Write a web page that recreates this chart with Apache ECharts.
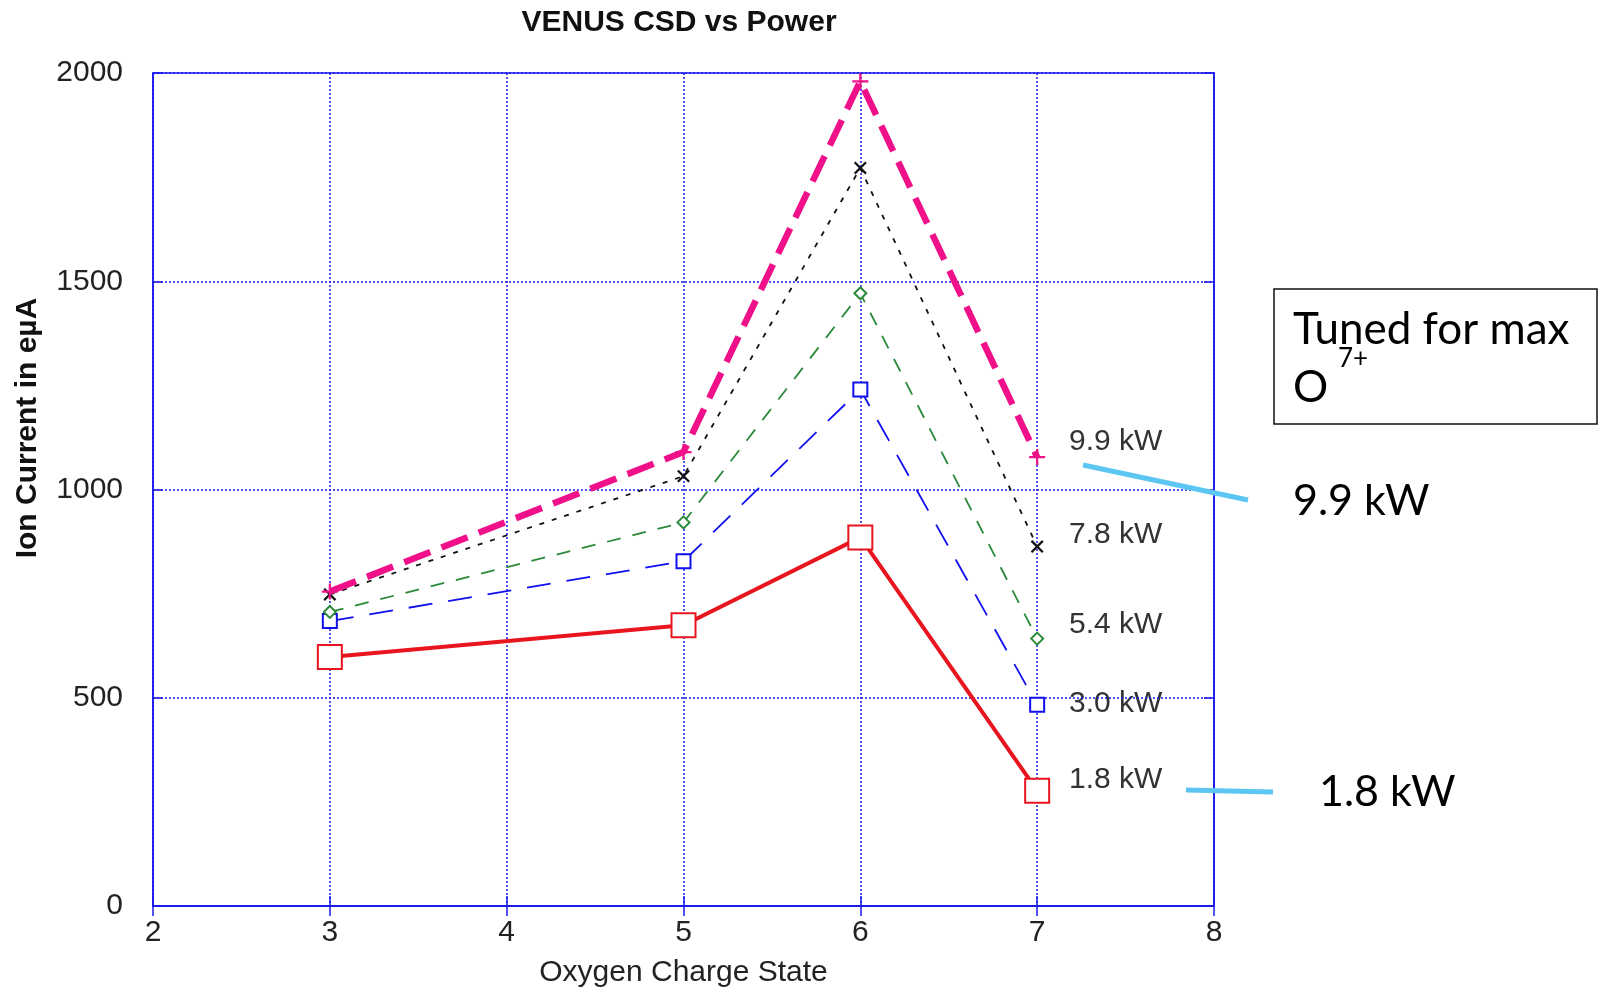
<!DOCTYPE html>
<html>
<head>
<meta charset="utf-8">
<script src="https://cdn.jsdelivr.net/npm/echarts@6/dist/echarts.min.js"></script>
<style>
  html, body { margin: 0; padding: 0; background: #fff; }
  #chart { width: 1599px; height: 992px; }
</style>
</head>
<body>
<div id="chart"></div>
<script>
// charge states measured
const chargeStates = [3, 5, 6, 7];
// ion current (e\u00b5A) per RF power
const power99 = [755, 1090, 1980, 1078];
const power78 = [748, 1032, 1772, 863];
const power54 = [706, 921, 1471, 642];
const power30 = [684, 828, 1240, 483];
const power18 = [598, 674, 885, 277];
const seriesNames = ['9.9 kW', '7.8 kW', '5.4 kW', '3.0 kW', '1.8 kW'];

const gridBlue = '#1a1aee';
const tickFont = { fontFamily: 'Liberation Sans', fontSize: 30, color: '#222' };
const plusPath = 'path://M0,4.3 L10,4.3 L10,5.7 L0,5.7 Z M4.3,0 L5.7,0 L5.7,10 L4.3,10 Z';

function pts(vals) {
    return chargeStates.map((x, i) => [x, vals[i]]);
}

const chart = echarts.init(document.getElementById('chart'));

const axisCommon = {
    type: 'value',
    axisLine: { show: true, lineStyle: { color: gridBlue, width: 1.5 } },
    axisTick: { show: true, inside: true, length: 10, lineStyle: { color: gridBlue, width: 1.5 } }
};

chart.setOption({
    backgroundColor: '#fff',
    animation: false,
    title: {
        text: 'VENUS CSD vs Power',
        left: 674,
        textAlign: 'center',
        top: 3,
        textStyle: { fontFamily: 'Liberation Sans', fontSize: 30, fontWeight: 'bold', color: '#111' }
    },
    grid: {
        left: 153, right: 385, top: 73, bottom: 86,
        outerBoundsMode: 'none', containLabel: false,
        show: true, borderColor: gridBlue, borderWidth: 1.5
    },
    xAxis: [
        Object.assign({}, axisCommon, {
            min: 2, max: 8, interval: 1,
            name: 'Oxygen Charge State',
            nameLocation: 'middle',
            nameGap: 52,
            nameTextStyle: { fontFamily: 'Liberation Sans', fontSize: 30, color: '#222' },
            axisLabel: Object.assign({ margin: 12 }, tickFont),
            splitLine: { show: true, lineStyle: { color: gridBlue, type: [2, 2], width: 1.5 } }
        }),
        Object.assign({}, axisCommon, {
            position: 'top', min: 2, max: 8, interval: 1,
            axisLabel: { show: false }, splitLine: { show: false }
        })
    ],
    yAxis: [
        Object.assign({}, axisCommon, {
            min: 0, max: 2000, interval: 500,
            axisLabel: Object.assign({ margin: 30, formatter: (v) => String(v) }, tickFont),
            splitLine: { show: true, lineStyle: { color: gridBlue, type: [2, 2], width: 1.5 } }
        }),
        Object.assign({}, axisCommon, {
            position: 'right', min: 0, max: 2000, interval: 500,
            axisLabel: { show: false }, splitLine: { show: false }
        })
    ],
    series: [
        {
            name: seriesNames[0], type: 'line', data: pts(power99), z: 6,
            symbol: plusPath, symbolSize: 16,
            lineStyle: { color: '#f0108a', width: 6.5, type: [28, 12] },
            itemStyle: { color: '#f0108a' }
        },
        {
            name: seriesNames[1], type: 'line', data: pts(power78), z: 5,
            symbol: plusPath, symbolSize: 16, symbolRotate: 45,
            lineStyle: { color: '#111', width: 1.8, type: [5, 8] },
            itemStyle: { color: '#111' }
        },
        {
            name: seriesNames[2], type: 'line', data: pts(power54), z: 4,
            symbol: 'emptyDiamond', symbolSize: 12,
            lineStyle: { color: '#2a8a3a', width: 1.8, type: [14, 12] },
            itemStyle: { color: '#2a8a3a', borderWidth: 1.5 }
        },
        {
            name: seriesNames[3], type: 'line', data: pts(power30), z: 3,
            symbol: 'emptyRect', symbolSize: 14,
            lineStyle: { color: '#1010ee', width: 1.8, type: [24, 16] },
            itemStyle: { color: '#1010ee', borderWidth: 2 }
        },
        {
            name: seriesNames[4], type: 'line', data: pts(power18), z: 7,
            symbol: 'emptyRect', symbolSize: 24,
            lineStyle: { color: '#e8141e', width: 4 },
            itemStyle: { color: '#e8141e', borderWidth: 2 }
        }
    ],
    graphic: [
        // y axis title, sits above the plot centre in the original
        { type: 'text', x: 28, y: 428, rotation: Math.PI / 2,
          style: { text: 'Ion Current in e\u00b5A', font: 'bold 30px "Liberation Sans"', fill: '#111', align: 'center', verticalAlign: 'middle' } },
        // in-plot series labels
        { type: 'text', left: 1069, top: 427, style: { text: seriesNames[0], font: '30px "Liberation Sans"', fill: '#333' } },
        { type: 'text', left: 1069, top: 520, style: { text: seriesNames[1], font: '30px "Liberation Sans"', fill: '#333' } },
        { type: 'text', left: 1069, top: 610, style: { text: seriesNames[2], font: '30px "Liberation Sans"', fill: '#333' } },
        { type: 'text', left: 1069, top: 689, style: { text: seriesNames[3], font: '30px "Liberation Sans"', fill: '#333' } },
        { type: 'text', left: 1069, top: 765, style: { text: seriesNames[4], font: '30px "Liberation Sans"', fill: '#333' } },
        // callout box
        { type: 'rect', shape: { x: 1274, y: 289, width: 323, height: 135 }, style: { fill: '#fff', stroke: '#111', lineWidth: 1.5 }, z: 10 },
        { type: 'text', x: 1293, y: 308, z: 11, style: { text: 'Tuned for max', font: '44px Lato', fill: '#000' } },
        { type: 'text', x: 1293, y: 366, z: 11, style: { text: 'O', font: '44px Lato', fill: '#000' } },
        { type: 'text', x: 1338, y: 346, z: 11, style: { text: '7+', font: '26px Lato', fill: '#000' } },
        // callout lines and big labels
        { type: 'line', shape: { x1: 1083, y1: 465, x2: 1248, y2: 500 }, style: { stroke: '#5cc6f2', lineWidth: 5 }, z: 9 },
        { type: 'line', shape: { x1: 1186, y1: 790, x2: 1273, y2: 792 }, style: { stroke: '#5cc6f2', lineWidth: 5 }, z: 9 },
        { type: 'text', x: 1293, y: 480, z: 11, style: { text: '9.9 kW', font: '43px Lato', fill: '#000' } },
        { type: 'text', x: 1319, y: 771, z: 11, style: { text: '1.8 kW', font: '43px Lato', fill: '#000' } }
    ]
});
</script>
</body>
</html>
